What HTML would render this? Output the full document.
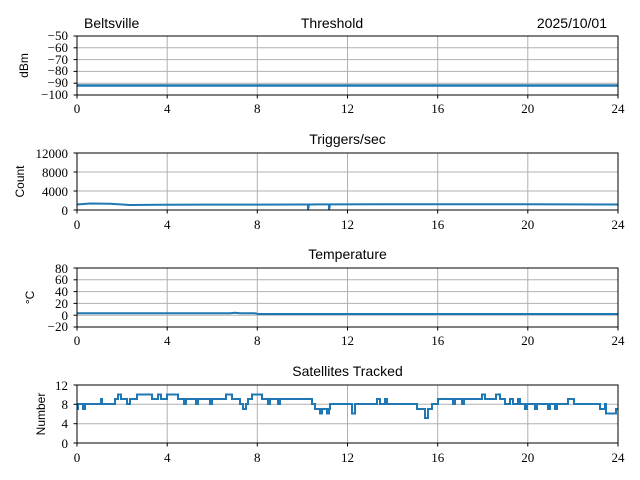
<!DOCTYPE html>
<html><head><meta charset="utf-8"><style>
body{margin:0;background:#fff;width:640px;height:480px;overflow:hidden}
svg{display:block}
.t{font-family:"Liberation Serif","DejaVu Serif",serif;font-size:13px;fill:#000}
.s{font-family:"Liberation Sans","DejaVu Sans",sans-serif;font-size:14px;fill:#000}
.y{font-family:"Liberation Sans","DejaVu Sans",sans-serif;font-size:12px;fill:#000}
.g{stroke:#b0b0b0;stroke-width:1}
.f{fill:none;stroke:#000;stroke-width:1}
.d{fill:none;stroke:#1f77b4;stroke-width:2;stroke-linejoin:miter}
.k{stroke:#000;stroke-width:1}
</style></head><body>
<svg width="640" height="480" xmlns="http://www.w3.org/2000/svg">
<!-- Plot 1 -->
<g>
<line class="g" x1="77" y1="47.8" x2="618" y2="47.8"/><line class="g" x1="77" y1="59.6" x2="618" y2="59.6"/><line class="g" x1="77" y1="71.4" x2="618" y2="71.4"/><line class="g" x1="77" y1="83.2" x2="618" y2="83.2"/>
<line class="g" x1="167.2" y1="36" x2="167.2" y2="95"/><line class="g" x1="257.3" y1="36" x2="257.3" y2="95"/><line class="g" x1="347.5" y1="36" x2="347.5" y2="95"/><line class="g" x1="437.7" y1="36" x2="437.7" y2="95"/><line class="g" x1="527.8" y1="36" x2="527.8" y2="95"/>
<line x1="77" y1="85.5" x2="618" y2="85.5" stroke="#1f77b4" stroke-width="2.5"/>
<rect class="f" x="77" y="36" width="541" height="59"/>
<text class="s" x="84" y="28">Beltsville</text>
<text class="s" x="332" y="28" text-anchor="middle">Threshold</text>
<text class="s" x="607" y="28" text-anchor="end">2025/10/01</text>
<text class="y" transform="translate(28,65.5) rotate(-90)" text-anchor="middle">dBm</text>
<g class="k"><line x1="73.5" y1="36" x2="77" y2="36"/><line x1="73.5" y1="47.8" x2="77" y2="47.8"/><line x1="73.5" y1="59.6" x2="77" y2="59.6"/><line x1="73.5" y1="71.4" x2="77" y2="71.4"/><line x1="73.5" y1="83.2" x2="77" y2="83.2"/><line x1="73.5" y1="95" x2="77" y2="95"/></g>
<g class="t" text-anchor="end"><text x="68" y="40">−50</text><text x="68" y="52">−60</text><text x="68" y="64">−70</text><text x="68" y="75">−80</text><text x="68" y="87">−90</text><text x="68" y="99">−100</text></g>
</g>
<!-- Plot 2 -->
<g>
<line class="g" x1="77" y1="172" x2="618" y2="172"/><line class="g" x1="77" y1="191" x2="618" y2="191"/>
<line class="g" x1="167.2" y1="153" x2="167.2" y2="210"/><line class="g" x1="257.3" y1="153" x2="257.3" y2="210"/><line class="g" x1="347.5" y1="153" x2="347.5" y2="210"/><line class="g" x1="437.7" y1="153" x2="437.7" y2="210"/><line class="g" x1="527.8" y1="153" x2="527.8" y2="210"/>
<polyline class="d" stroke-width="2.2" points="77,204.5 90,203.5 110,203.8 130,205 160,204.8 200,204.6 250,204.6 300,204.5 308,204.5 308,210 309,204.5 320,204.4 329,204.4 329,210 330,204.4 380,204.3 450,204.2 520,204.3 570,204.4 618,204.5"/>
<rect class="f" x="77" y="153" width="541" height="57"/>
<text class="s" x="347.5" y="144" text-anchor="middle">Triggers/sec</text>
<text class="y" transform="translate(24,181.5) rotate(-90)" text-anchor="middle">Count</text>
<g class="k"><line x1="73.5" y1="153" x2="77" y2="153"/><line x1="73.5" y1="172" x2="77" y2="172"/><line x1="73.5" y1="191" x2="77" y2="191"/><line x1="73.5" y1="210" x2="77" y2="210"/></g>
<g class="t" text-anchor="end"><text x="68" y="158">12000</text><text x="68" y="177">8000</text><text x="68" y="196">4000</text><text x="68" y="215">0</text></g>
</g>
<!-- Plot 3 -->
<g>
<line class="g" x1="77" y1="279.8" x2="618" y2="279.8"/><line class="g" x1="77" y1="291.6" x2="618" y2="291.6"/><line class="g" x1="77" y1="303.4" x2="618" y2="303.4"/><line class="g" x1="77" y1="315.2" x2="618" y2="315.2"/>
<line class="g" x1="167.2" y1="268" x2="167.2" y2="327"/><line class="g" x1="257.3" y1="268" x2="257.3" y2="327"/><line class="g" x1="347.5" y1="268" x2="347.5" y2="327"/><line class="g" x1="437.7" y1="268" x2="437.7" y2="327"/><line class="g" x1="527.8" y1="268" x2="527.8" y2="327"/>
<polyline class="d" points="77,313.3 230,313.3 235,312.8 240,313.3 255,313.3 258,314 618,314"/>
<rect class="f" x="77" y="268" width="541" height="59"/>
<text class="s" x="347.5" y="259" text-anchor="middle">Temperature</text>
<text class="y" transform="translate(34,297.5) rotate(-90)" text-anchor="middle">°C</text>
<g class="k"><line x1="73.5" y1="268" x2="77" y2="268"/><line x1="73.5" y1="279.8" x2="77" y2="279.8"/><line x1="73.5" y1="291.6" x2="77" y2="291.6"/><line x1="73.5" y1="303.4" x2="77" y2="303.4"/><line x1="73.5" y1="315.2" x2="77" y2="315.2"/><line x1="73.5" y1="327" x2="77" y2="327"/></g>
<g class="t" text-anchor="end"><text x="68" y="273">80</text><text x="68" y="284">60</text><text x="68" y="296">40</text><text x="68" y="308">20</text><text x="68" y="320">0</text><text x="68" y="331">−20</text></g>
</g>
<!-- Plot 4 -->
<g>
<line class="g" x1="77" y1="404.3" x2="618" y2="404.3"/><line class="g" x1="77" y1="423.7" x2="618" y2="423.7"/>
<line class="g" x1="167.2" y1="385" x2="167.2" y2="443"/><line class="g" x1="257.3" y1="385" x2="257.3" y2="443"/><line class="g" x1="347.5" y1="385" x2="347.5" y2="443"/><line class="g" x1="437.7" y1="385" x2="437.7" y2="443"/><line class="g" x1="527.8" y1="385" x2="527.8" y2="443"/>
<polyline class="d" points="77,409 78,409 78,404 83,404 83,409 85,409 85,404 101,404 101,399 102,399 102,404 115,404 115,399 118,399 118,394.5 121,394.5 121,399 127,399 127,404 130,404 130,399 137,399 137,394.5 152,394.5 152,399 158,399 158,394.5 161,394.5 161,399 167,399 167,394.5 178,394.5 178,399 184,399 184,404 186,404 186,399 196,399 196,404 198,404 198,399 210,399 210,404 212,404 212,399 226,399 226,394.5 232,394.5 232,399 240,399 240,404 243,404 243,409 246,409 246,404 248,404 248,399 252,399 252,394.5 262,394.5 262,399 268,399 268,404 270,404 270,399 278,399 278,404 280,404 280,399 290,399 290,399 312,399 312,404 315,404 315,409 320,409 320,413.5 322,413.5 322,409 327,409 327,413.5 329,413.5 329,409 330,409 330,404 352,404 352,413.5 355,413.5 355,404 377,404 377,399 380,399 380,404 385,404 385,399 387,399 387,404 393,404 393,404 417,404 417,409 425,409 425,418 428,418 428,409 432,409 432,404 438,404 438,399 453,399 453,404 455,404 455,399 462,399 462,404 464,404 464,399 482,399 482,394.5 485,394.5 485,399 496,399 496,394.5 500,394.5 500,399 505,399 505,404 510,404 510,399 513,399 513,404 518,404 518,399 520,399 520,404 525,404 525,409 527,409 527,404 535,404 535,409 537,409 537,404 548,404 548,409 550,409 550,404 555,404 555,409 557,409 557,404 568,404 568,399 574,399 574,404 600,404 600,409 605,409 605,404 606,404 606,413.5 616,413.5 616,409 618,409"/>
<rect class="f" x="77" y="385" width="541" height="58"/>
<text class="s" x="347.5" y="376" text-anchor="middle">Satellites Tracked</text>
<text class="y" transform="translate(45,414) rotate(-90)" text-anchor="middle">Number</text>
<g class="k"><line x1="73.5" y1="385" x2="77" y2="385"/><line x1="73.5" y1="404.3" x2="77" y2="404.3"/><line x1="73.5" y1="423.7" x2="77" y2="423.7"/><line x1="73.5" y1="443" x2="77" y2="443"/></g>
<g class="t" text-anchor="end"><text x="68" y="390">12</text><text x="68" y="409">8</text><text x="68" y="428">4</text><text x="68" y="448">0</text></g>
</g>
<!-- x ticks -->
<g class="k">
<line x1="77" y1="95" x2="77" y2="98.5"/><line x1="167.2" y1="95" x2="167.2" y2="98.5"/><line x1="257.3" y1="95" x2="257.3" y2="98.5"/><line x1="347.5" y1="95" x2="347.5" y2="98.5"/><line x1="437.7" y1="95" x2="437.7" y2="98.5"/><line x1="527.8" y1="95" x2="527.8" y2="98.5"/><line x1="618" y1="95" x2="618" y2="98.5"/>
<line x1="77" y1="210" x2="77" y2="213.5"/><line x1="167.2" y1="210" x2="167.2" y2="213.5"/><line x1="257.3" y1="210" x2="257.3" y2="213.5"/><line x1="347.5" y1="210" x2="347.5" y2="213.5"/><line x1="437.7" y1="210" x2="437.7" y2="213.5"/><line x1="527.8" y1="210" x2="527.8" y2="213.5"/><line x1="618" y1="210" x2="618" y2="213.5"/>
<line x1="77" y1="327" x2="77" y2="330.5"/><line x1="167.2" y1="327" x2="167.2" y2="330.5"/><line x1="257.3" y1="327" x2="257.3" y2="330.5"/><line x1="347.5" y1="327" x2="347.5" y2="330.5"/><line x1="437.7" y1="327" x2="437.7" y2="330.5"/><line x1="527.8" y1="327" x2="527.8" y2="330.5"/><line x1="618" y1="327" x2="618" y2="330.5"/>
<line x1="77" y1="443" x2="77" y2="446.5"/><line x1="167.2" y1="443" x2="167.2" y2="446.5"/><line x1="257.3" y1="443" x2="257.3" y2="446.5"/><line x1="347.5" y1="443" x2="347.5" y2="446.5"/><line x1="437.7" y1="443" x2="437.7" y2="446.5"/><line x1="527.8" y1="443" x2="527.8" y2="446.5"/><line x1="618" y1="443" x2="618" y2="446.5"/>
</g>
<g class="t" text-anchor="middle">
<text x="77" y="113">0</text><text x="167.2" y="113">4</text><text x="257.3" y="113">8</text><text x="347.5" y="113">12</text><text x="437.7" y="113">16</text><text x="527.8" y="113">20</text><text x="618" y="113">24</text>
<text x="77" y="229">0</text><text x="167.2" y="229">4</text><text x="257.3" y="229">8</text><text x="347.5" y="229">12</text><text x="437.7" y="229">16</text><text x="527.8" y="229">20</text><text x="618" y="229">24</text>
<text x="77" y="345">0</text><text x="167.2" y="345">4</text><text x="257.3" y="345">8</text><text x="347.5" y="345">12</text><text x="437.7" y="345">16</text><text x="527.8" y="345">20</text><text x="618" y="345">24</text>
<text x="77" y="462">0</text><text x="167.2" y="462">4</text><text x="257.3" y="462">8</text><text x="347.5" y="462">12</text><text x="437.7" y="462">16</text><text x="527.8" y="462">20</text><text x="618" y="462">24</text>
</g>
</svg>
</body></html>
